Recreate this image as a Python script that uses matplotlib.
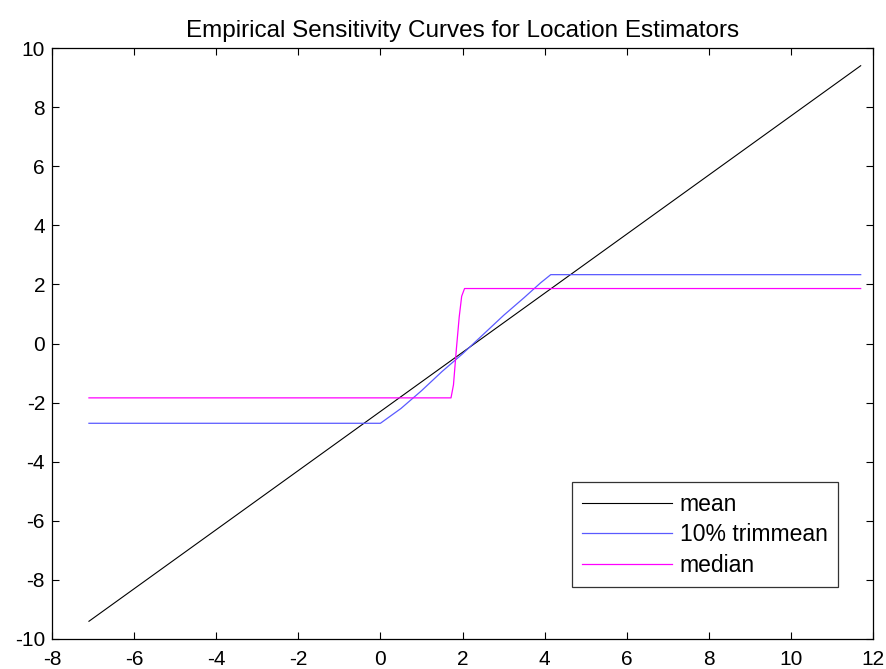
import matplotlib.pyplot as plt
import numpy as np

plt.rcParams['font.family'] = ['Liberation Sans', 'DejaVu Sans']
plt.rcParams['axes.unicode_minus'] = False

# data
mean_x = [-7.1, -6.0, -5.0, -4.0, -3.0, -2.0, -1.0, 0.0, 1.0, 2.0, 3.0, 4.0,
          5.0, 6.0, 7.0, 8.0, 9.0, 10.0, 11.0, 11.7]
mean_y = [-9.4, -8.3, -7.3, -6.3, -5.3, -4.3, -3.3, -2.3, -1.3, -0.3, 0.7, 1.7,
          2.7, 3.7, 4.7, 5.7, 6.7, 7.7, 8.7, 9.4]

trim_x = [-7.1, 0.0, 0.15, 0.5, 1.0, 1.5, 2.0, 2.5, 3.0, 3.5, 3.9, 4.15, 11.7]
trim_y = [-2.7, -2.7, -2.55, -2.2, -1.6, -0.95, -0.35, 0.3, 0.95, 1.55, 2.05, 2.33, 2.33]

med_x = [-7.1, 1.72, 1.78, 1.85, 1.92, 1.98, 2.05, 11.7]
med_y = [-1.84, -1.84, -1.4, -0.2, 0.9, 1.6, 1.86, 1.86]

labels = ['mean', '10% trimmean', 'median']

fig = plt.figure(figsize=(8.87, 6.69), dpi=100)
ax = fig.add_axes([52/887, 30/669, 821/887, 591/669])

ax.plot(mean_x, mean_y, color='black', lw=0.8, label=labels[0])
ax.plot(trim_x, trim_y, color='#5a5aff', lw=0.9, label=labels[1])
ax.plot(med_x, med_y, color='#ff00ff', lw=0.9, label=labels[2])

ax.set_xlim(-8, 12)
ax.set_ylim(-10, 10)
ax.set_xticks(np.arange(-8, 13, 2))
ax.set_yticks(np.arange(-10, 11, 2))
ax.tick_params(direction='in', top=True, right=True, length=5, width=0.8,
               labelsize=15)
ax.tick_params(axis='x', pad=8)
ax.tick_params(axis='y', pad=5)
for s in ax.spines.values():
    s.set_linewidth(0.9)

ax.set_title('Empirical Sensitivity Curves for Location Estimators',
             fontsize=17.5, pad=8)

leg = ax.legend(loc='lower right', fontsize=16.5, frameon=True,
                fancybox=False, edgecolor='black', handlelength=3.9,
                borderaxespad=0, borderpad=0.45, labelspacing=0.33,
                handletextpad=0.35)
leg.get_frame().set_linewidth(0.9)
leg.set_bbox_to_anchor((786/821, 52/591), transform=ax.transAxes)

fig.savefig('out.png', dpi=100)
